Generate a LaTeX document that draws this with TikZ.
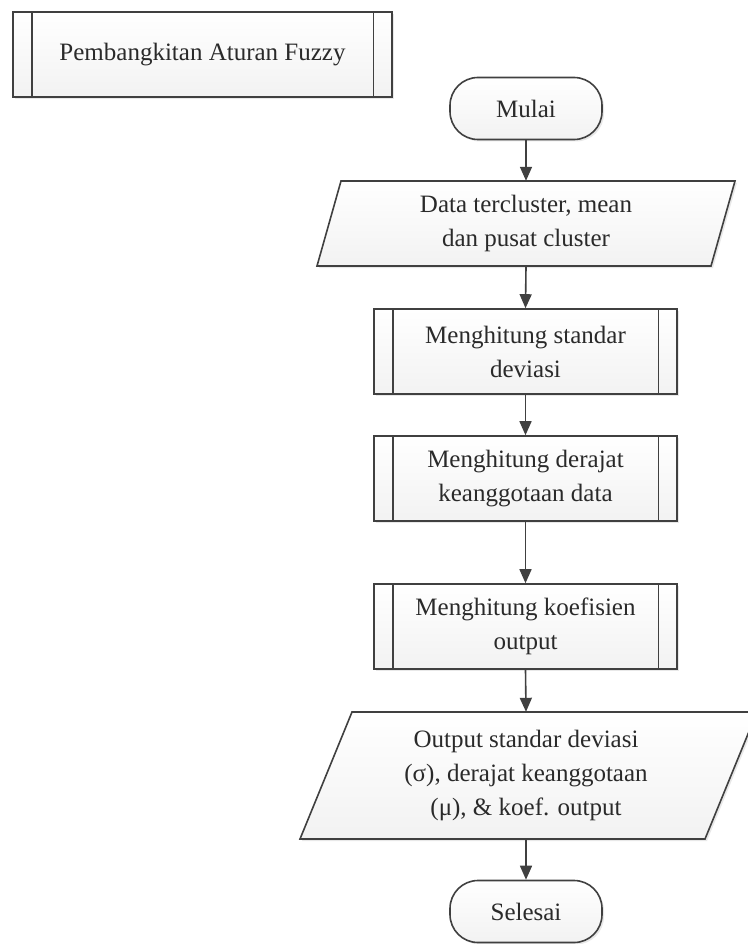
\documentclass[tikz,border=0pt]{standalone}
\usepackage{fontspec}
\setmainfont{Liberation Serif}
\usetikzlibrary{arrows.meta,shadows}
\definecolor{edge}{HTML}{404040}
\definecolor{ink}{HTML}{2A2A2A}
\begin{document}
\begin{tikzpicture}[x=1pt,y=-1pt,
  every node/.style={font=\fontsize{25}{34}\selectfont, text=ink, align=center, inner sep=0pt},
  boxfill/.style={top color=white, bottom color=gray!10, draw=edge, line width=1.6pt},
  softshadow/.style={drop shadow={opacity=0.18, shadow xshift=2pt, shadow yshift=-2pt}},
  procbox/.style={boxfill, softshadow, rectangle, minimum width=303pt, minimum height=85pt},
  termbox/.style={boxfill, softshadow, rectangle, rounded corners=28pt, minimum width=152pt, minimum height=62pt},
  iobox/.style={rectangle, minimum width=300pt},
  flow/.style={draw=edge, line width=1.6pt, -{Triangle[length=14pt,width=12pt]}},
  sideline/.style={draw=edge, line width=1.6pt}]

\useasboundingbox (0,0) rectangle (747,944);

% subroutine title
\node[procbox, minimum width=379pt] (title) at (202.5,54.5) {Pembangkitan Aturan Fuzzy};

% start
\node[termbox] (start) at (526,108.5) {Mulai};

% input data
\path[boxfill, softshadow] (341,181) -- (735,181) -- (711,266) -- (317,266) -- cycle;
\node[iobox, minimum height=85pt] (input) at (526,223.5) {Data tercluster, mean\\dan pusat cluster};

% predefined processes
\node[procbox] (std) at (525.5,351.5) {Menghitung standar\\deviasi};
\node[procbox] (deg) at (525.5,478.5) {Menghitung derajat\\keanggotaan data};
\node[procbox] (coef) at (525.5,626.5) {Menghitung koefisien\\output};

% output data
\path[boxfill, softshadow] (352,712) -- (757,712) -- (705,839) -- (300,839) -- cycle;
\node[iobox, minimum height=127pt] (output) at (526,775.5) {Output standar deviasi\\(σ), derajat keanggotaan\\(μ), \& koef. output};

% end
\node[termbox] (stop) at (526,911.5) {Selesai};

% double side bars of the predefined-process boxes
\foreach \n in {title,std,deg,coef} {
  \draw[sideline] ([xshift=19.5pt]\n.north west) -- ([xshift=19.5pt]\n.south west);
  \draw[sideline] ([xshift=-19.5pt]\n.north east) -- ([xshift=-19.5pt]\n.south east);
}

% flow
\draw[flow] (start.south) -- (input.north);
\draw[flow] (input.south) -- (std.north);
\draw[flow] (std.south) -- (deg.north);
\draw[flow] (deg.south) -- (coef.north);
\draw[flow] (coef.south) -- (output.north);
\draw[flow] (output.south) -- (stop.north);
\end{tikzpicture}
\end{document}
